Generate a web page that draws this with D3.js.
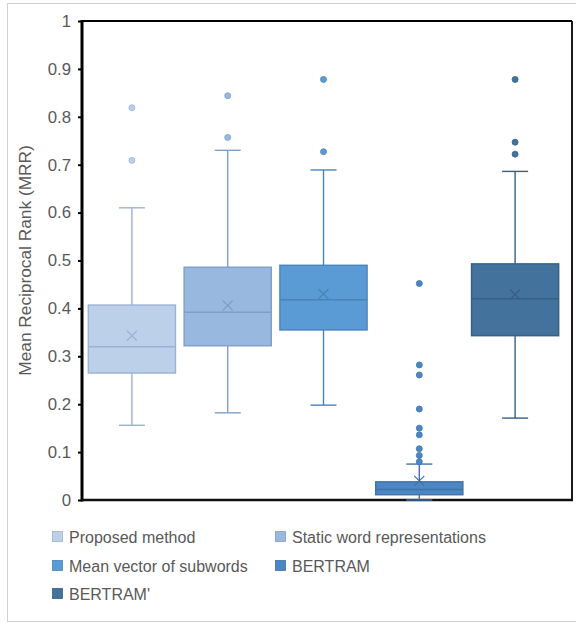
<!DOCTYPE html>
<html>
<head>
<meta charset="utf-8">
<script src="https://cdn.jsdelivr.net/npm/d3@7"></script>
<style>
  html, body { margin: 0; padding: 0; background: #fff; }
  svg { display: block; font-family: "Liberation Sans", Arial, sans-serif; }
</style>
</head>
<body>
<svg id="chart" width="576" height="624"></svg>
<script>
// Box-plot summary for each method
const categories = ["Proposed method", "Static word representations", "Mean vector of subwords", "BERTRAM", "BERTRAM'"];
const whiskerLow  = [0.156, 0.182, 0.198, 0.000, 0.171];
const q1          = [0.265, 0.322, 0.355, 0.011, 0.343];
const medians     = [0.320, 0.392, 0.418, 0.022, 0.420];
const q3          = [0.407, 0.486, 0.490, 0.038, 0.493];
const whiskerHigh = [0.610, 0.730, 0.689, 0.075, 0.686];
const means       = [0.343, 0.406, 0.430, 0.040, 0.429];
const outliers = [
  [0.819, 0.709],
  [0.844, 0.757],
  [0.878, 0.727],
  [0.452, 0.282, 0.261, 0.190, 0.150, 0.136, 0.107, 0.093, 0.080],
  [0.878, 0.747, 0.722]
];
const yTicks = [0, 0.1, 0.2, 0.3, 0.4, 0.5, 0.6, 0.7, 0.8, 0.9, 1];
const yTitle = "Mean Reciprocal Rank (MRR)";

const fills   = ["#bdd0ea", "#98b8e0", "#5b9bd5", "#4d87c3", "#43729d"];
const strokes = ["#9cb2d3", "#7f9ec8", "#4a83ba", "#3f73a8", "#375f87"];

const svg = d3.select("#chart");

// Outer frame
svg.append("rect")
  .attr("x", 7.5).attr("y", 3.5).attr("width", 580).attr("height", 618)
  .attr("fill", "none").attr("stroke", "#d0d0d0").attr("stroke-width", 1);

const plot = { left: 82, right: 572, top: 21, bottom: 500 };

const y = d3.scaleLinear().domain([0, 1]).range([plot.bottom, plot.top]);
const x = d3.scaleBand().domain(categories).range([84, 563]).paddingInner(0.09).paddingOuter(0.045);

// Plot frame: thin top/right, heavy left/bottom
svg.append("line").attr("x1", plot.left).attr("x2", plot.right).attr("y1", plot.top).attr("y2", plot.top)
  .attr("stroke", "#000").attr("stroke-width", 1.8);
svg.append("line").attr("x1", plot.right).attr("x2", plot.right).attr("y1", plot.top).attr("y2", plot.bottom)
  .attr("stroke", "#000").attr("stroke-width", 1.8);

// Y axis
const yAxis = svg.append("g")
  .attr("transform", `translate(${plot.left},0)`)
  .call(d3.axisLeft(y).tickValues(yTicks).tickSize(4).tickPadding(7)
    .tickFormat(d => d3.format("")(+d.toFixed(1))));
yAxis.select(".domain").remove();
yAxis.selectAll(".tick line").attr("stroke", "#000").attr("stroke-width", 2);
yAxis.selectAll(".tick text").attr("fill", "#595959").attr("font-size", 16.8)
  .attr("font-family", "Liberation Sans, Arial, sans-serif");

svg.append("line").attr("x1", plot.left).attr("x2", plot.left).attr("y1", plot.top - 1).attr("y2", plot.bottom + 1.5)
  .attr("stroke", "#000").attr("stroke-width", 3);
svg.append("line").attr("x1", plot.left).attr("x2", plot.right + 1).attr("y1", plot.bottom).attr("y2", plot.bottom)
  .attr("stroke", "#111").attr("stroke-width", 2.5);

svg.append("text")
  .attr("transform", `translate(31,${(plot.top + plot.bottom) / 2}) rotate(-90)`)
  .attr("text-anchor", "middle")
  .attr("fill", "#595959").attr("font-size", 17.3)
  .text(yTitle);

// Boxes
const g = svg.append("g");
categories.forEach((c, i) => {
  const cx = x(c) + x.bandwidth() / 2;
  const bw = x.bandwidth();
  const capHalf = 13;
  const grp = g.append("g");
  // whiskers
  grp.append("line").attr("x1", cx).attr("x2", cx).attr("y1", y(q3[i])).attr("y2", y(whiskerHigh[i]))
    .attr("stroke", strokes[i]).attr("stroke-width", 1.4);
  grp.append("line").attr("x1", cx).attr("x2", cx).attr("y1", y(q1[i])).attr("y2", y(whiskerLow[i]))
    .attr("stroke", strokes[i]).attr("stroke-width", 1.4);
  grp.append("line").attr("x1", cx - capHalf).attr("x2", cx + capHalf)
    .attr("y1", y(whiskerHigh[i])).attr("y2", y(whiskerHigh[i]))
    .attr("stroke", strokes[i]).attr("stroke-width", 1.4);
  grp.append("line").attr("x1", cx - capHalf).attr("x2", cx + capHalf)
    .attr("y1", y(whiskerLow[i])).attr("y2", y(whiskerLow[i]))
    .attr("stroke", strokes[i]).attr("stroke-width", 1.4);
  // box
  grp.append("rect")
    .attr("x", x(c)).attr("width", bw)
    .attr("y", y(q3[i])).attr("height", y(q1[i]) - y(q3[i]))
    .attr("fill", fills[i]).attr("stroke", strokes[i]).attr("stroke-width", 1.4);
  // median
  grp.append("line").attr("x1", x(c)).attr("x2", x(c) + bw)
    .attr("y1", y(medians[i])).attr("y2", y(medians[i]))
    .attr("stroke", strokes[i]).attr("stroke-width", 1.4);
  // mean marker
  const m = 5;
  const my = y(means[i]);
  grp.append("path")
    .attr("d", `M${cx - m},${my - m}L${cx + m},${my + m}M${cx - m},${my + m}L${cx + m},${my - m}`)
    .attr("stroke", strokes[i]).attr("stroke-width", 1.2).attr("fill", "none");
  // outliers
  grp.selectAll("circle").data(outliers[i]).enter().append("circle")
    .attr("cx", cx).attr("cy", d => y(d)).attr("r", 3)
    .attr("fill", fills[i]).attr("stroke", strokes[i]).attr("stroke-width", 0.8);
});

// Legend
const legendPos = [[52, 537], [275, 537], [52, 566], [275, 566], [52, 594]];
const lg = svg.append("g");
categories.forEach((c, i) => {
  const [lx, ly] = legendPos[i];
  lg.append("rect").attr("x", lx + 0.5).attr("y", ly - 5.5).attr("width", 10).attr("height", 10)
    .attr("fill", fills[i]).attr("stroke", strokes[i]).attr("stroke-width", 0.8);
  lg.append("text").attr("x", lx + 17).attr("y", ly + 6)
    .attr("fill", "#595959").attr("font-size", 16).text(c);
});
</script>
</body>
</html>
